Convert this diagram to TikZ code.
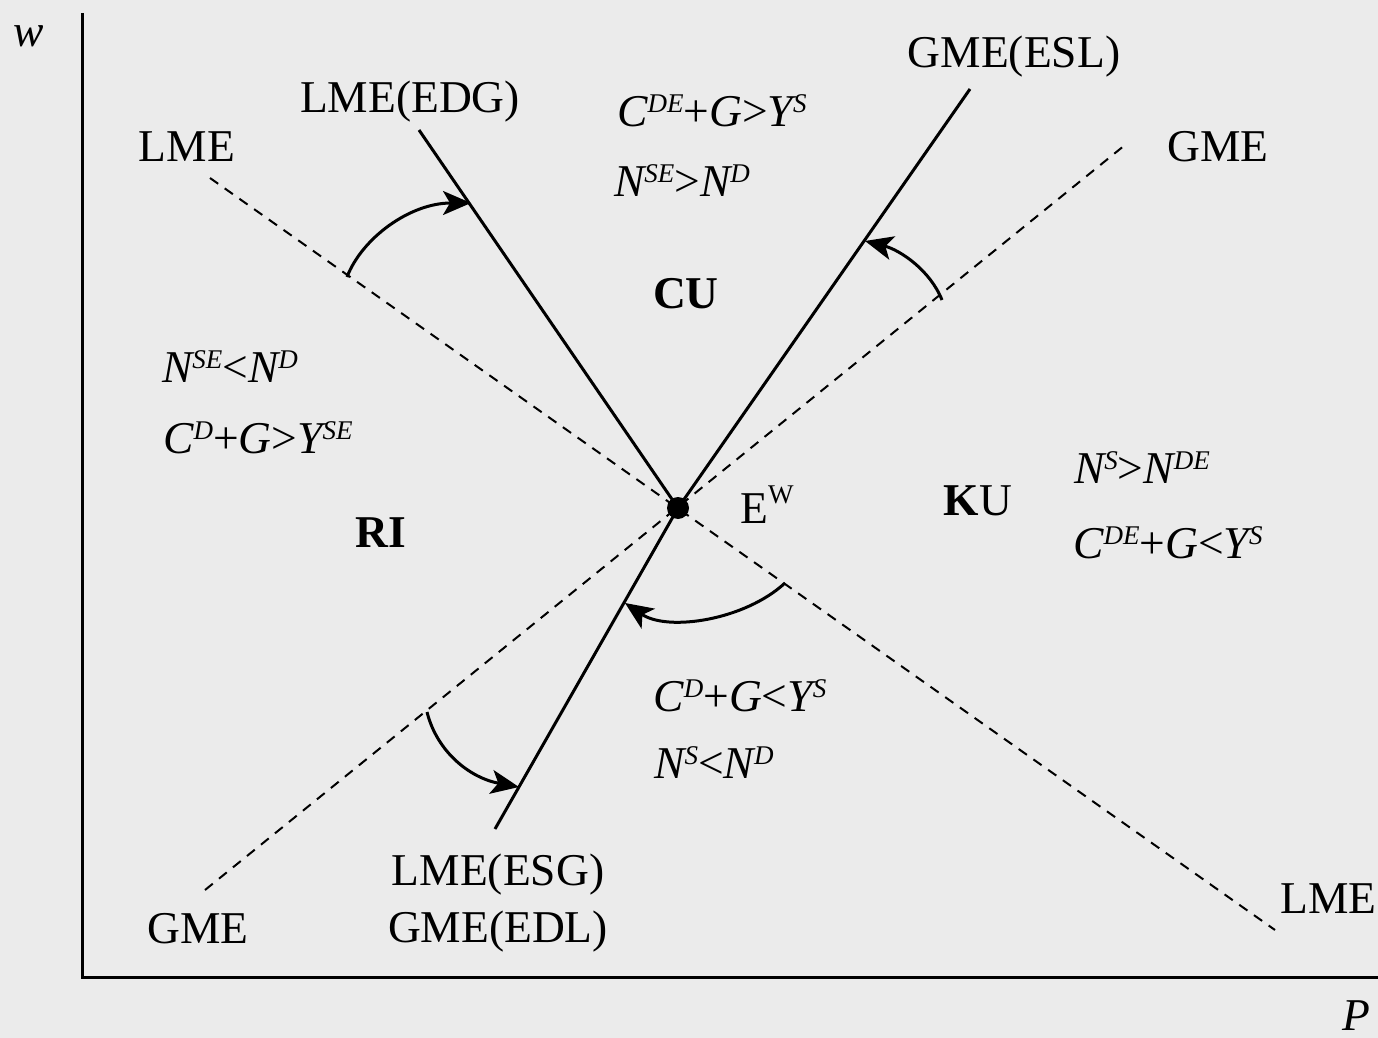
\documentclass[tikz,border=0pt]{standalone}
\usepackage{fontspec}
\setmainfont{Liberation Serif}
\usetikzlibrary{arrows.meta}
\definecolor{bggray}{HTML}{EBEBEB}
% raised small index, used for the superscripts of the quantities
\newcommand\sps[1]{\raisebox{7pt}{\fontsize{13.5}{14}\selectfont #1}}
\newcommand\op[1]{{\upshape #1}}

\begin{document}
\begin{tikzpicture}[x=0.5pt,y=-0.5pt,
  lbl/.style={anchor=base, inner sep=0pt, font=\fontsize{22.75}{27}\selectfont},
  eq/.style={lbl, font=\fontsize{22.75}{27}\selectfont\itshape},
  axisln/.style={line width=1.5pt},
  solidln/.style={line width=1.5pt},
  dashln/.style={line width=1pt, dash pattern=on 5pt off 4pt},
  turn/.style={line width=1.5pt, -{Stealth[length=14pt,width=12pt,inset=3.5pt]}},
]
\fill[bggray] (0,0) rectangle (1378,1038);
\useasboundingbox (0,0) rectangle (1378,1038);

% axes
\coordinate (ytop) at (82,13);
\coordinate (orig) at (82,977);
\coordinate (xend) at (1378,977);
\draw[axisln] (ytop) -- (orig) -- (xend);
\node[eq] (wlab) at (29,47) {w};
\node[eq] (plab) at (1356,1030) {P};

% equilibrium point
\node[circle, fill, inner sep=0pt, minimum size=11pt] (E) at (678,508) {};

% dashed schedules
\coordinate (lmeA) at (210,178);
\coordinate (lmeB) at (1275,930);
\coordinate (gmeA) at (205,890);
\coordinate (gmeB) at (1125,145);
\draw[dashln] (lmeA) -- (lmeB);
\draw[dashln] (gmeA) -- (gmeB);

% solid schedules
\coordinate (edgTop) at (419,130);
\coordinate (eslTop) at (970,89);
\coordinate (esgBot) at (495,829);
\draw[solidln] (edgTop) -- (E.center);
\draw[solidln] (eslTop) -- (E.center);
\draw[solidln] (E.center) -- (esgBot);

% rotation arrows
\coordinate (r1s) at (347,277);
\coordinate (r1e) at (471,203);
\draw[turn] (r1s) .. controls (362,238) and (410,203) .. (r1e);
\coordinate (r2s) at (942,300);
\coordinate (r2e) at (865,241);
\draw[turn] (r2s) .. controls (930,270) and (900,250) .. (r2e);
\coordinate (r3s) at (785,583);
\coordinate (r3e) at (625,603);
\draw[turn] (r3s) .. controls (745,620) and (668,632) .. (r3e);
\coordinate (r4s) at (427,712);
\coordinate (r4e) at (519,787);
\draw[turn] (r4s) .. controls (437,752) and (470,778) .. (r4e);

% schedule labels
\node[lbl] (tLME) at (187,162) {LME};
\node[lbl] (tEDG) at (410,113) {LME(EDG)};
\node[lbl] (tESL) at (1014,68) {GME(ESL)};
\node[lbl] (tGME) at (1218,162) {GME};
\node[lbl] (bGME) at (198,943) {GME};
\node[lbl] (tESG) at (498,885) {LME(ESG)};
\node[lbl] (tEDL) at (498,942) {GME(EDL)};
\node[lbl, anchor=base east] (bLME) at (1377,913) {LME};
\node[lbl, anchor=base west] (tEW) at (740,523) {E\raisebox{10pt}{\fontsize{13.5}{14}\selectfont W}};

% regime labels
\node[lbl] (tCU) at (686,308) {\textbf{CU}};
\node[lbl] (tRI) at (381,547) {\textbf{RI}};
\node[lbl] (tKU) at (978,515) {\textbf{K}U};

% regime conditions
\node[eq] (c1) at (712,127) {C\sps{DE}\op{+}G\op{>}Y\sps{S}};
\node[eq] (c2) at (682,197) {N\sps{SE}\op{>}N\sps{D}};
\node[eq] (c3) at (230,382) {N\sps{SE}\op{<}N\sps{D}};
\node[eq] (c4) at (258,453) {C\sps{D}\op{+}G\op{>}Y\sps{SE}};
\node[eq] (c5) at (1142,483) {N\sps{S}\op{>}N\sps{DE}};
\node[eq] (c6) at (1168,558) {C\sps{DE}\op{+}G\op{<}Y\sps{S}};
\node[eq] (c7) at (740,711) {C\sps{D}\op{+}G\op{<}Y\sps{S}};
\node[eq] (c8) at (714,778) {N\sps{S}\op{<}N\sps{D}};
\end{tikzpicture}
\end{document}
